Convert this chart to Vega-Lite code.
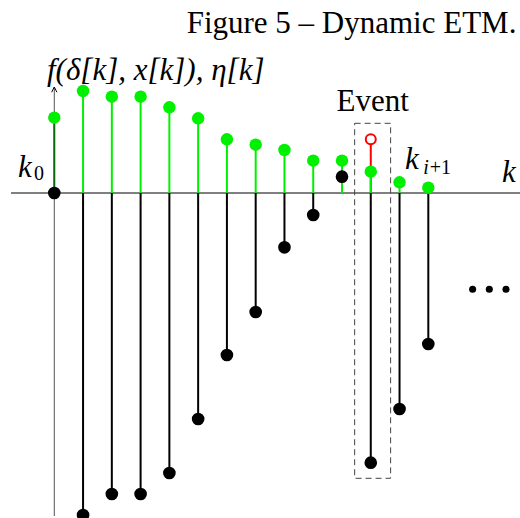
{
  "$schema": "https://vega.github.io/schema/vega-lite/v6.json",
  "width": 520,
  "height": 518,
  "padding": 0,
  "autosize": "none",
  "background": "white",
  "config": {"view": {"stroke": null}},
  "datasets": {
    "seq": [
      {"k": 0, "f": 7.53, "eta": 0},
      {"k": 1, "f": 10.2, "eta": -32.2},
      {"k": 2, "f": 9.63, "eta": -30.1},
      {"k": 3, "f": 9.63, "eta": -30.1},
      {"k": 4, "f": 8.57, "eta": -28.0},
      {"k": 5, "f": 7.47, "eta": -22.6},
      {"k": 6, "f": 5.37, "eta": -16.2},
      {"k": 7, "f": 4.83, "eta": -11.9},
      {"k": 8, "f": 4.3, "eta": -5.43},
      {"k": 9, "f": 3.23, "eta": -2.2},
      {"k": 10, "f": 3.23, "eta": 1.63},
      {"k": 11, "f": 2.13, "eta": -26.97},
      {"k": 12, "f": 1.07, "eta": -21.6},
      {"k": 13, "f": 0.53, "eta": -15.1}
    ],
    "event": [{"k": 11, "f": 5.37}],
    "box": [{"k1": 10.44, "k2": 11.69, "v1": 6.97, "v2": -28.53}],
    "haxis": [{"k1": -1.505, "k2": 16.2, "v": 0}],
    "vaxis": [{"k": 0, "v1": -32.3, "v2": 10.6}],
    "dots": [{"k": 14.54, "v": -9.63}, {"k": 15.12, "v": -9.63}, {"k": 15.7, "v": -9.63}],
    "ttl": [{"k": 4.6, "v": 16.0, "text": "Figure 5 – Dynamic ETM."}],
    "eventlabel": [{"k": 11.07, "v": 8.2, "text": "Event"}],
    "mathlabels": [
      {"k": -0.254, "v": 11.3, "text": "f(δ[k], x[k]), η[k]"},
      {"k": -1.262, "v": 1.6, "text": "k"},
      {"k": 12.19, "v": 2.45, "text": "k"},
      {"k": 15.56, "v": 1.1, "text": "k"}
    ],
    "subs": [
      {"k": -0.706, "v": 1.3, "text": "0"},
      {"k": 13.05, "v": 1.95, "text": "+1"}
    ],
    "subsit": [
      {"k": 12.82, "v": 1.95, "text": "i"}
    ]
  },
  "layer": [
    {
      "data": {"name": "haxis"},
      "mark": {"type": "rule", "color": "black", "strokeWidth": 1},
      "encoding": {
        "x": {"field": "k1", "type": "quantitative", "scale": {"domain": [-1.887, 16.187], "nice": false, "zero": false, "padding": 0}, "axis": null},
        "x2": {"field": "k2"},
        "y": {"field": "v", "type": "quantitative", "scale": {"domain": [-32.5, 19.3], "nice": false, "zero": false, "padding": 0}, "axis": null}
      }
    },
    {
      "data": {"name": "vaxis"},
      "mark": {"type": "rule", "color": "#555555", "strokeWidth": 1},
      "encoding": {
        "x": {"field": "k", "type": "quantitative"},
        "y": {"field": "v1", "type": "quantitative"},
        "y2": {"field": "v2"}
      }
    },
    {
      "data": {"name": "vaxis"},
      "mark": {"type": "point", "shape": "M-0.5,1L0,0L0.5,1", "filled": false, "stroke": "black", "strokeWidth": 1, "size": 110, "opacity": 1},
      "encoding": {
        "x": {"field": "k", "type": "quantitative"},
        "y": {"field": "v2", "type": "quantitative"}
      }
    },
    {
      "data": {"name": "box"},
      "mark": {"type": "rect", "fill": "transparent", "stroke": "#444444", "strokeWidth": 1, "strokeDash": [6, 4]},
      "encoding": {
        "x": {"field": "k1", "type": "quantitative"},
        "x2": {"field": "k2"},
        "y": {"field": "v1", "type": "quantitative"},
        "y2": {"field": "v2"}
      }
    },
    {
      "data": {"name": "seq"},
      "mark": {"type": "bar", "color": "black", "size": 2},
      "encoding": {
        "x": {"field": "k", "type": "quantitative"},
        "y": {"field": "eta", "type": "quantitative"}
      }
    },
    {
      "data": {"name": "event"},
      "mark": {"type": "bar", "color": "#ff0000", "size": 2},
      "encoding": {
        "x": {"field": "k", "type": "quantitative"},
        "y": {"field": "f", "type": "quantitative"}
      }
    },
    {
      "data": {"name": "seq"},
      "mark": {"type": "bar", "size": 2},
      "encoding": {
        "x": {"field": "k", "type": "quantitative"},
        "y": {"field": "f", "type": "quantitative"},
        "color": {"condition": {"test": "datum.k === 0", "value": "#0b6a0b"}, "value": "#00f000"}
      }
    },
    {
      "data": {"name": "seq"},
      "mark": {"type": "point", "filled": true, "color": "#00f000", "size": 155, "opacity": 1, "shape": "circle"},
      "encoding": {
        "x": {"field": "k", "type": "quantitative"},
        "y": {"field": "f", "type": "quantitative"}
      }
    },
    {
      "data": {"name": "seq"},
      "mark": {"type": "point", "filled": true, "color": "black", "size": 160, "opacity": 1, "shape": "circle"},
      "encoding": {
        "x": {"field": "k", "type": "quantitative"},
        "y": {"field": "eta", "type": "quantitative"}
      }
    },
    {
      "data": {"name": "event"},
      "mark": {"type": "point", "filled": true, "fill": "white", "stroke": "#ff0000", "strokeWidth": 2, "size": 100, "opacity": 1, "shape": "circle"},
      "encoding": {
        "x": {"field": "k", "type": "quantitative"},
        "y": {"field": "f", "type": "quantitative"}
      }
    },
    {
      "data": {"name": "dots"},
      "mark": {"type": "point", "filled": true, "color": "black", "size": 50, "opacity": 1, "shape": "circle"},
      "encoding": {
        "x": {"field": "k", "type": "quantitative"},
        "y": {"field": "v", "type": "quantitative"}
      }
    },
    {
      "data": {"name": "ttl"},
      "mark": {"type": "text", "font": "Liberation Serif", "fontSize": 31, "align": "left", "baseline": "alphabetic", "color": "black"},
      "encoding": {
        "x": {"field": "k", "type": "quantitative"},
        "y": {"field": "v", "type": "quantitative"},
        "text": {"field": "text"}
      }
    },
    {
      "data": {"name": "eventlabel"},
      "mark": {"type": "text", "font": "Liberation Serif", "fontSize": 31, "align": "center", "baseline": "alphabetic", "color": "black"},
      "encoding": {
        "x": {"field": "k", "type": "quantitative"},
        "y": {"field": "v", "type": "quantitative"},
        "text": {"field": "text"}
      }
    },
    {
      "data": {"name": "mathlabels"},
      "mark": {"type": "text", "font": "Liberation Serif", "fontStyle": "italic", "fontSize": 31, "align": "left", "baseline": "alphabetic", "color": "black"},
      "encoding": {
        "x": {"field": "k", "type": "quantitative"},
        "y": {"field": "v", "type": "quantitative"},
        "text": {"field": "text"}
      }
    },
    {
      "data": {"name": "subs"},
      "mark": {"type": "text", "font": "Liberation Serif", "fontSize": 20, "align": "left", "baseline": "alphabetic", "color": "black"},
      "encoding": {
        "x": {"field": "k", "type": "quantitative"},
        "y": {"field": "v", "type": "quantitative"},
        "text": {"field": "text"}
      }
    },
    {
      "data": {"name": "subsit"},
      "mark": {"type": "text", "font": "Liberation Serif", "fontStyle": "italic", "fontSize": 20, "align": "left", "baseline": "alphabetic", "color": "black"},
      "encoding": {
        "x": {"field": "k", "type": "quantitative"},
        "y": {"field": "v", "type": "quantitative"},
        "text": {"field": "text"}
      }
    }
  ]
}
